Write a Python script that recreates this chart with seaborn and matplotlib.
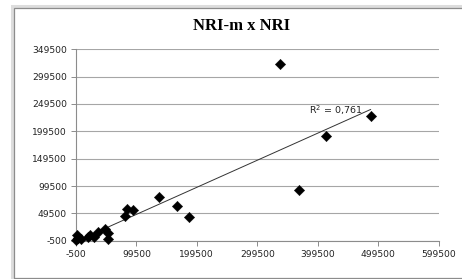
import matplotlib
matplotlib.use("Agg")
import matplotlib.pyplot as plt
from matplotlib.patches import Rectangle
import seaborn as sns
import pandas as pd
import numpy as np

# ---- data ----
nri = [0, 2300, 500, 7800, 18900, 22700, 29300, 36400, 47500, 53000, 52000,
       81300, 84600, 94500, 137100, 166400, 186200, 337600, 368600, 412800, 487300]
nri_m = [0, 5000, 10500, 2600, 6300, 9900, 5600, 14900, 20900, 13000, 2100,
         45200, 57400, 55600, 80000, 62900, 42200, 322700, 92200, 190400, 226900]
x_ticks = [-500, 99500, 199500, 299500, 399500, 499500, 599500]
y_ticks = [-500, 49500, 99500, 149500, 199500, 249500, 299500, 349500]
title = "NRI-m x NRI"
r2_label = "R$^2$ = 0,761"

df = pd.DataFrame({"NRI": nri, "NRI-m": nri_m})

sns.set_theme(style="white")
plt.rcParams['font.family'] = ['DejaVu Sans']

W, H = 462, 279
fig = plt.figure(figsize=(W / 100, H / 100), dpi=100)
fig.patch.set_facecolor("white")

# chart-area frame
fig.patches.append(Rectangle((11.5 / W, -0.1), 1.2, (H - 6) / H + 0.1,
                             transform=fig.transFigure, fill=False,
                             edgecolor="#dddddd", lw=2.2, zorder=0))
fig.patches.append(Rectangle((13.5 / W, 1.2 / H), 1.2, (H - 9.5) / H,
                             transform=fig.transFigure, fill=False,
                             edgecolor="#8c8c8c", lw=0.9, zorder=1))

ax = fig.add_axes([76 / W, 1 - 240.7 / H, (438.5 - 76) / W, (240.7 - 49.3) / H])
ax.set_facecolor("none")

sns.regplot(data=df, x="NRI", y="NRI-m", ax=ax, ci=None, truncate=True,
            marker="D",
            scatter_kws=dict(s=28, color="black", edgecolor="black", alpha=1,
                             linewidths=0.3, zorder=3, clip_on=False),
            line_kws=dict(color="#333333", lw=0.7, zorder=2))

ax.set_xlim(x_ticks[0], x_ticks[-1])
ax.set_ylim(y_ticks[0], y_ticks[-1])
ax.set_xticks(x_ticks)
ax.set_yticks(y_ticks)
ax.set_xticklabels([str(v) for v in x_ticks])
ax.set_yticklabels([str(v) for v in y_ticks])
ax.set_xlabel("")
ax.set_ylabel("")

ax.yaxis.grid(True, color="#a6a6a6", lw=0.8)
ax.xaxis.grid(False)
ax.set_axisbelow(True)
for s in ["top", "right"]:
    ax.spines[s].set_visible(False)
for s in ["left", "bottom"]:
    ax.spines[s].set_color("#8c8c8c")
    ax.spines[s].set_linewidth(0.8)

ax.tick_params(axis="both", which="major", length=3.5, width=0.7,
               color="#8c8c8c", labelsize=6.6, labelcolor="#222222",
               direction="out", bottom=True, left=True, pad=3)

ax.text(385000, 239000, r2_label, fontsize=6.8, color="#222222",
        ha="left", va="center")

fig.text(241.7 / W, 1 - 26.5 / H, title, ha="center", va="center",
         fontsize=12, fontweight="bold", family=["Liberation Serif"],
         color="black")

fig.savefig("out.png", dpi=100, facecolor="white")
